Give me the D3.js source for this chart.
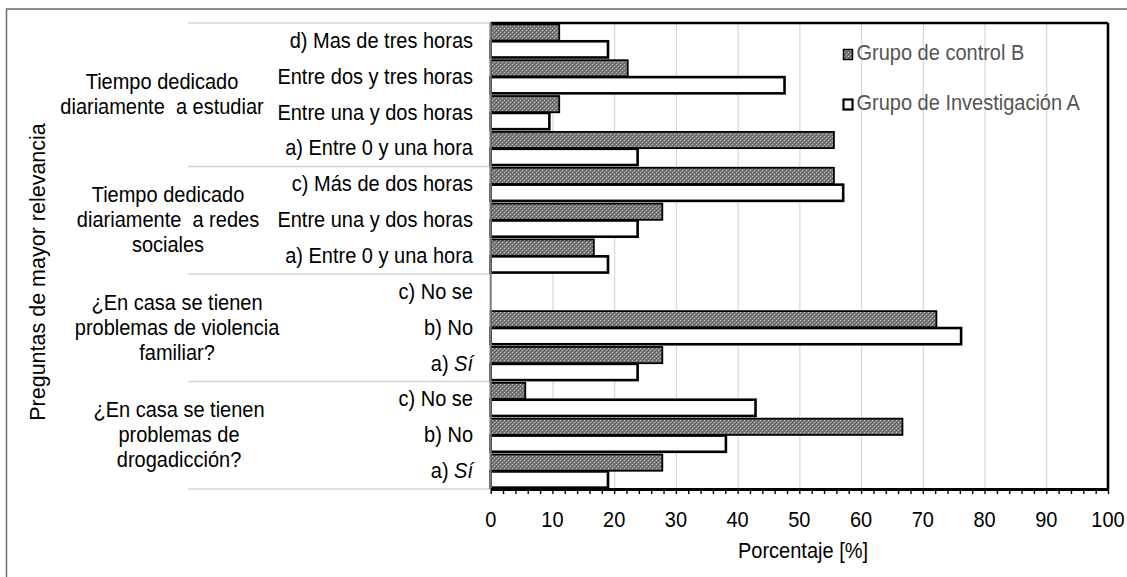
<!DOCTYPE html>
<html>
<head>
<meta charset="utf-8">
<script src="https://cdn.jsdelivr.net/npm/d3@7"></script>
<style>
  html, body { margin: 0; padding: 0; background: #fff; }
  svg text { font-family: "Liberation Sans", Arial, sans-serif; white-space: pre; }
</style>
</head>
<body>
<svg id="chart" width="1127" height="577"></svg>
<script>
// ---------------- DATA ----------------
const groupLines = [
  ["Tiempo dedicado", "diariamente  a estudiar"],
  ["Tiempo dedicado", "diariamente  a redes", "sociales"],
  ["¿En casa se tienen", "problemas de violencia", "familiar?"],
  ["¿En casa se tienen", "problemas de", "drogadicción?"]
];
const categories = [
  "d) Mas de tres horas", "Entre dos y tres horas", "Entre una y dos horas", "a) Entre 0 y una hora",
  "c) Más de dos horas", "Entre una y dos horas", "a) Entre 0 y una hora",
  "c) No se", "b) No", "a) Sí",
  "c) No se", "b) No", "a) Sí"
];
const categoryGroup = [0, 0, 0, 0, 1, 1, 1, 2, 2, 2, 3, 3, 3];
const seriesNames = ["Grupo de control B", "Grupo de Investigación A"];
const grupoControlB = [11.1, 22.2, 11.1, 55.6, 55.6, 27.8, 16.7, 0, 72.2, 27.8, 5.6, 66.7, 27.8];
const grupoInvestigacionA = [19.0, 47.6, 9.5, 23.8, 57.1, 23.8, 19.0, 0, 76.2, 23.8, 42.9, 38.1, 19.0];
const xTickLabels = [0, 10, 20, 30, 40, 50, 60, 70, 80, 90, 100];
const xMinorTicks = d3.range(0, 101, 2);
const xAxisTitle = "Porcentaje [%]";
const yAxisTitle = "Preguntas de mayor relevancia";

// ---------------- LAYOUT ----------------
const W = 1127, H = 577;
const plot = { left: 490.7, right: 1108, top: 23, bottom: 489 };
const groupLabelCx = [162, 168, 177, 179];
const FS = 20;          // font size
const SY = 1.14;        // vertical stretch of text (reference is slightly tall)

const svg = d3.select("#chart");
svg.append("rect").attr("width", W).attr("height", H).attr("fill", "#fff");

function addText(parent, x, y, opts = {}) {
  return parent.append("text")
    .attr("transform", `translate(${x},${y}) scale(1,${SY})`)
    .attr("text-anchor", opts.anchor || "start")
    .attr("font-size", (opts.size || FS) + "px")
    .attr("fill", opts.fill || "#000");
}

// pattern for grey bars
const defs = svg.append("defs");
const pat = defs.append("pattern").attr("id", "dots").attr("patternUnits", "userSpaceOnUse")
  .attr("width", 4).attr("height", 4);
pat.append("rect").attr("width", 4).attr("height", 4).attr("fill", "#7e7e7e").attr("shape-rendering", "crispEdges");
[[0,0],[2,2]].forEach(([a,b]) => pat.append("rect").attr("x", a).attr("y", b).attr("width", 1).attr("height", 1)
  .attr("fill", "#bdbdbd").attr("shape-rendering", "crispEdges"));
[[1,1],[3,3],[2,0],[0,2]].forEach(([a,b]) => pat.append("rect").attr("x", a).attr("y", b).attr("width", 1).attr("height", 1)
  .attr("fill", "#5c5c5c").attr("shape-rendering", "crispEdges"));

// outer frame
svg.append("rect").attr("x", 6.5).attr("y", 9).attr("width", 1140).attr("height", 600)
  .attr("fill", "none").attr("stroke", "#6a6a6a").attr("stroke-width", 1.5);

const x = d3.scaleLinear().domain([0, 100]).range([plot.left, plot.right]);
const y = d3.scaleBand().domain(d3.range(categories.length)).range([plot.top, plot.bottom]);
const inner = d3.scaleBand().domain([0, 1]).range([0, y.bandwidth()]).paddingOuter(0.08).paddingInner(0.04);

// gridlines
svg.append("g")
  .attr("transform", `translate(0,${plot.bottom})`)
  .call(d3.axisBottom(x).tickValues(xTickLabels.filter(v => v > 0 && v < 100))
    .tickSize(-(plot.bottom - plot.top)).tickFormat(""))
  .call(g => g.select(".domain").remove())
  .call(g => g.selectAll("line").attr("stroke", "#d9d9d9").attr("stroke-width", 1.2));

// group separators on left
const groupBounds = d3.range(groupLines.length).map(gi => {
  const idx = categoryGroup.map((g, i) => g === gi ? i : -1).filter(i => i >= 0);
  return { start: y(idx[0]), end: y(idx[idx.length - 1]) + y.bandwidth() };
});
const sepYs = [plot.top, ...groupBounds.map(b => b.end)];
svg.append("g").selectAll("line").data(sepYs).join("line")
  .attr("x1", 188).attr("x2", plot.left).attr("y1", d => d).attr("y2", d => d)
  .attr("stroke", "#d4d4d4").attr("stroke-width", 1.5);

// bars
const barData = [];
categories.forEach((c, i) => [grupoControlB[i], grupoInvestigacionA[i]].forEach((v, s) => {
  if (v > 0) barData.push({ i, s, v });
}));
svg.append("g").selectAll("rect").data(barData).join("rect")
  .attr("x", x(0))
  .attr("y", d => y(d.i) + inner(d.s))
  .attr("width", d => x(d.v) - x(0))
  .attr("height", inner.bandwidth())
  .attr("fill", d => d.s === 0 ? "url(#dots)" : "#fff")
  .attr("stroke", "#000")
  .attr("stroke-width", d => d.s === 0 ? 1.8 : 2.6);

// plot frame: top & right black, left grey
svg.append("line").attr("x1", plot.left).attr("x2", plot.right).attr("y1", plot.top).attr("y2", plot.top)
  .attr("stroke", "#000").attr("stroke-width", 2.6);
svg.append("line").attr("x1", plot.right).attr("x2", plot.right).attr("y1", plot.top).attr("y2", plot.bottom)
  .attr("stroke", "#000").attr("stroke-width", 2.6);
svg.append("line").attr("x1", plot.left).attr("x2", plot.left).attr("y1", plot.top).attr("y2", plot.bottom)
  .attr("stroke", "#7a7a7a").attr("stroke-width", 2);

// x axis
const xAxis = svg.append("g").attr("transform", `translate(0,${plot.bottom})`)
  .call(d3.axisBottom(x).tickValues(xMinorTicks).tickSize(5).tickSizeOuter(0).tickFormat(""));
xAxis.select(".domain").attr("stroke", "#000").attr("stroke-width", 3);
xAxis.selectAll("line").attr("stroke", "#000").attr("stroke-width", 1.4);

const tl = svg.append("g");
xTickLabels.forEach(v => addText(tl, x(v), 527, { anchor: "middle" }).text(String(v)));

addText(svg, 803, 558, { anchor: "middle" }).text(xAxisTitle);

// y title
svg.append("text").attr("transform", "translate(45,272) rotate(-90)")
  .attr("text-anchor", "middle").attr("font-size", "21.5px").attr("fill", "#000").text(yAxisTitle);

// category labels
const cg = svg.append("g");
categories.forEach((d, i) => {
  const t = addText(cg, 473, y(i) + y.bandwidth() / 2 + 7, { anchor: "end" });
  if (d.endsWith("Sí")) {
    t.append("tspan").text(d.slice(0, d.length - 2));
    t.append("tspan").attr("font-style", "italic").text("Sí");
  } else t.text(d);
});

// group labels
const gg = svg.append("g");
groupLines.forEach((lines, gi) => {
  const b = groupBounds[gi];
  const cy = (b.start + b.end) / 2;
  const lh = 25;
  const firstBase = cy - (lines.length - 1) * lh / 2 + 7;
  lines.forEach((ln, k) => addText(gg, groupLabelCx[gi], firstBase + k * lh, { anchor: "middle" }).text(ln));
});

// legend
const lg = svg.append("g");
seriesNames.forEach((name, i) => {
  const by = 60 + i * 50;
  lg.append("rect").attr("x", 843.5).attr("y", by - 10.5).attr("width", 9).attr("height", 10)
    .attr("fill", i === 0 ? "url(#dots)" : "#fff")
    .attr("stroke", "#000").attr("stroke-width", i === 0 ? 1.5 : 2.2);
  addText(lg, 856.5, by, { fill: "#555" }).text(name);
});
</script>
</body>
</html>
